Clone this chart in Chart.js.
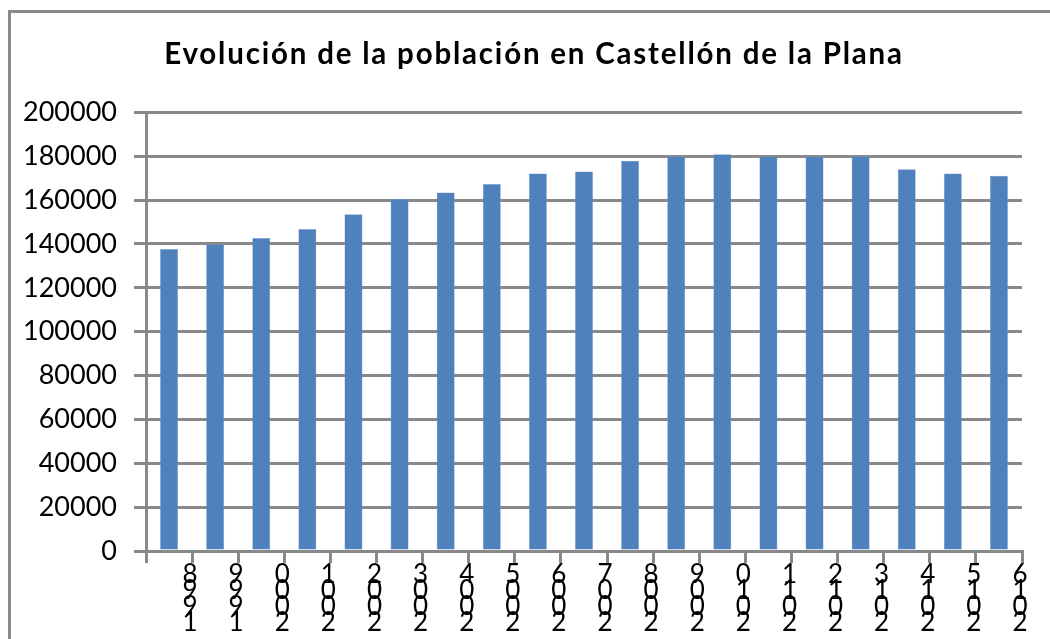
<!DOCTYPE html>
<html>
<head>
<meta charset="utf-8">
<script src="https://cdn.jsdelivr.net/npm/chart.js@4/dist/chart.umd.min.js"></script>
<style>
  html, body { margin: 0; padding: 0; background: #fff; overflow: hidden; }
  #wrap { position: relative; width: 1050px; height: 639px; }
  #frame { position: absolute; left: 8px; top: 10px; width: 1100px; height: 700px; border-left: 3px solid #8a8a8a; border-top: 3px solid #8a8a8a; box-sizing: border-box; pointer-events: none; }
  canvas { position: absolute; left: 0; top: 0; }
</style>
</head>
<body>
<div id="wrap">
  <div id="frame"></div>
  <canvas id="c" width="1050" height="639"></canvas>
</div>
<script>
const years = ['1998','1999','2000','2001','2002','2003','2004','2005','2006','2007','2008','2009','2010','2011','2012','2013','2014','2015','2016'];
const population = [137700, 139900, 142700, 146800, 153500, 160500, 163500, 167300, 172100, 173000, 178000, 179900, 180900, 179900, 179900, 179900, 174100, 172100, 171100];
const yTicks = [0, 20000, 40000, 60000, 80000, 100000, 120000, 140000, 160000, 180000, 200000];
const chartTitle = 'Evolución de la población en Castellón de la Plana';

// Excel-style stacked vertical label: digits read bottom-to-top
const xLabels = years.map(y => y.split('').reverse());

const GRID = '#898989';
const FONT = 'Lato, "Open Sans", sans-serif';

// Gives the title Excel-like letter spacing and its horizontal position
const titleStyle = {
  id: 'titleStyle',
  beforeDraw(chart) {
    const tb = chart.titleBlock;
    if (!tb || tb._styled) return;
    const orig = tb.draw.bind(tb);
    tb.draw = function () {
      const ctx = this.ctx;
      ctx.save();
      ctx.letterSpacing = '1.8px';
      ctx.translate(23, 0);
      orig();
      ctx.restore();
    };
    tb._styled = true;
  }
};

new Chart(document.getElementById('c'), {
  type: 'bar',
  data: {
    labels: xLabels,
    datasets: [{
      data: population,
      backgroundColor: '#4F81BD',
      borderColor: '#7A9FCC',
      borderWidth: 0.5,
      barPercentage: 0.78,
      categoryPercentage: 0.5
    }]
  },
  plugins: [titleStyle],
  options: {
    responsive: false,
    animation: false,
    devicePixelRatio: 1,
    layout: { padding: { left: 0, right: 28, top: 0, bottom: 0 } },
    plugins: {
      legend: { display: false },
      tooltip: { enabled: false },
      title: {
        display: true,
        text: chartTitle,
        color: '#000',
        font: { family: FONT, size: 29.5, weight: 'bold', lineHeight: 1.2 },
        padding: { top: 37, bottom: 40 }
      }
    },
    scales: {
      x: {
        offset: true,
        grid: { offset: true, drawOnChartArea: false, drawTicks: true, tickLength: 12, color: GRID, lineWidth: 3 },
        border: { display: true, color: GRID, width: 3 },
        ticks: {
          autoSkip: false, maxRotation: 0, minRotation: 0,
          color: '#000', padding: 4, labelOffset: 21,
          font: { family: FONT, size: 26, lineHeight: '16px' }
        },
        afterFit: (s) => { s.height = 88; }
      },
      y: {
        min: 0, max: 200000,
        afterBuildTicks: (s) => { s.ticks = yTicks.map(v => ({ value: v })); },
        grid: { color: GRID, lineWidth: 3, drawTicks: true, tickLength: 12 },
        border: { display: true, color: GRID, width: 3 },
        ticks: {
          color: '#000', padding: 17,
          font: { family: FONT, size: 27 },
          callback: (v) => String(v)
        },
        afterFit: (s) => { s.width = 146; }
      }
    }
  }
});
</script>
</body>
</html>
